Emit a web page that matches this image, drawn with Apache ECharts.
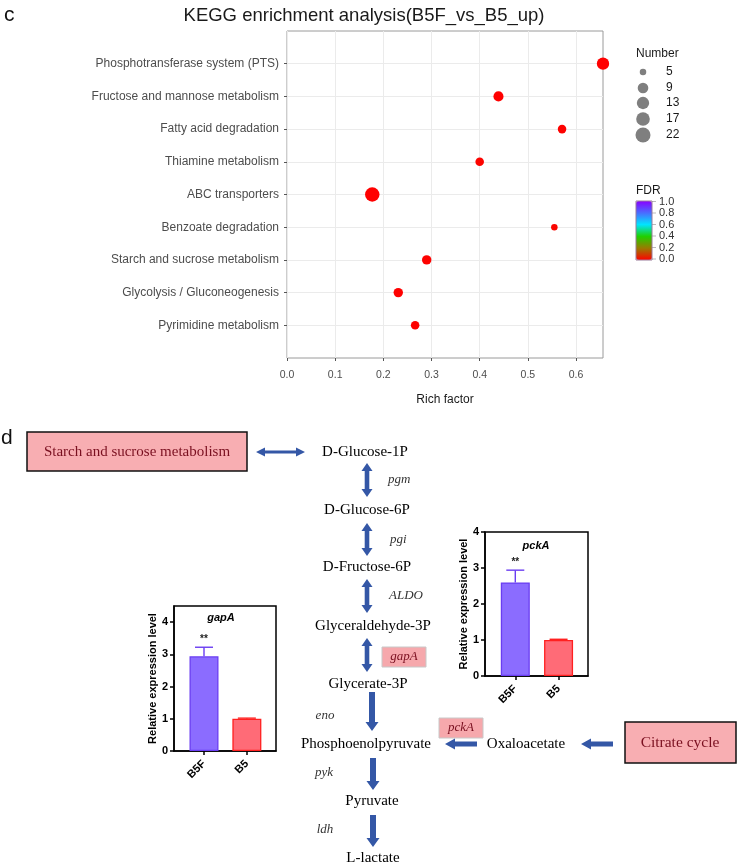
<!DOCTYPE html>
<html><head><meta charset="utf-8">
<script src="https://cdn.jsdelivr.net/npm/echarts@6/dist/echarts.min.js"></script>
<style>html,body{margin:0;padding:0;background:#fff}#c{width:737px;height:865px}</style>
</head><body><div id="c"></div>
<script>
// ---------- panel c data ----------
const categories = ['Phosphotransferase system (PTS)','Fructose and mannose metabolism','Fatty acid degradation','Thiamine metabolism','ABC transporters','Benzoate degradation','Starch and sucrose metabolism','Glycolysis / Gluconeogenesis','Pyrimidine metabolism'];
const richFactor = [0.656, 0.439, 0.571, 0.400, 0.177, 0.555, 0.290, 0.231, 0.266];
const geneNumber = [13, 8, 6, 6, 20, 5, 7, 7, 6];
const fdr = [0.0002, 0.0008, 0.004, 0.006, 0.0001, 0.009, 0.003, 0.002, 0.004];
const sizeBreaks = [5, 9, 13, 17, 22];
const fdrTickLabels = ['1.0','0.8','0.6','0.4','0.2','0.0'];
const xTickValues = [0, 0.1, 0.2, 0.3, 0.4, 0.5, 0.6];

// ---------- panel d data ----------
const qpcrGroups = ['B5F', 'B5'];
const gapAMean = [2.94, 1.00];
const gapASd = [0.28, 0.02];
const pckAMean = [2.60, 1.00];
const pckASd = [0.34, 0.02];
const sigMarks = ['**', ''];
const barTicks = [0, 1, 2, 3, 4];
const metabolites = ['D-Glucose-1P','D-Glucose-6P','D-Fructose-6P','Glyceraldehyde-3P','Glycerate-3P','Phosphoenolpyruvate','Pyruvate','L-lactate','Oxaloacetate'];
const enzymes = ['pgm','pgi','ALDO','eno','pyk','ldh'];
const highlightedGenes = ['gapA','pckA'];
const pathwayBoxes = ['Starch and sucrose metabolism','Citrate cycle'];

// ---------- styles ----------
const SANS = '"Liberation Sans", Arial, sans-serif';
const SERIF = '"Liberation Serif", "Times New Roman", serif';
const ARROW = '#3457a6';
const PINK = '#f8aeb2';
const DARKRED = '#7a1020';
const barFill = ['#8b6cff', '#ff6b77'];
const barBorder = ['#6a3df2', '#ff2020'];

function sizeFn(n) { return 6.5 + 8.5 * Math.sqrt((n - 5) / 17); }

const chart = echarts.init(document.getElementById('c'), null, {renderer: 'canvas'});

const yCats = [''].concat(categories).concat(['']);
const scatterData = categories.map((c, i) => [richFactor[i], c, geneNumber[i], fdr[i]]);

// ---------- graphic (legends, labels, pathway diagram) ----------
const G = [];
function txt(x, y, text, font, fill, align) {
  G.push({type: 'text', x: x, y: y, silent: true,
    style: {text: text, font: font, fill: fill || '#000',
      textAlign: align || 'center', textVerticalAlign: 'middle',
      align: align || 'center', verticalAlign: 'middle'}});
}
function poly(points) { G.push({type: 'polygon', silent: true, shape: {points: points}, style: {fill: ARROW}}); }
function rect(x, y, w, h, fill, stroke, lw) {
  G.push({type: 'rect', silent: true, shape: {x: x, y: y, width: w, height: h}, style: {fill: fill, stroke: stroke, lineWidth: lw}});
}
function line(x1, y1, x2, y2, col, lw) {
  G.push({type: 'line', silent: true, shape: {x1: x1, y1: y1, x2: x2, y2: y2}, style: {stroke: col, lineWidth: lw}});
}
function vDouble(x, y1, y2) {
  const hw = 5.5, sw = 2.3, hl = 8;
  poly([[x, y1], [x + hw, y1 + hl], [x + sw, y1 + hl], [x + sw, y2 - hl], [x + hw, y2 - hl], [x, y2],
        [x - hw, y2 - hl], [x - sw, y2 - hl], [x - sw, y1 + hl], [x - hw, y1 + hl]]);
}
function vDown(x, y1, y2) {
  const hw = 6.5, sw = 3, hl = 9;
  poly([[x - sw, y1], [x + sw, y1], [x + sw, y2 - hl], [x + hw, y2 - hl], [x, y2], [x - hw, y2 - hl], [x - sw, y2 - hl]]);
}
function hLeft(x1, x2, y) {
  const hh = 5.5, sh = 2.5, hl = 10;
  poly([[x1, y], [x1 + hl, y - hh], [x1 + hl, y - sh], [x2, y - sh], [x2, y + sh], [x1 + hl, y + sh], [x1 + hl, y + hh]]);
}
function hDouble(x1, x2, y) {
  const hh = 4.5, sh = 1.6, hl = 9;
  poly([[x1, y], [x1 + hl, y - hh], [x1 + hl, y - sh], [x2 - hl, y - sh], [x2 - hl, y - hh], [x2, y],
        [x2 - hl, y + hh], [x2 - hl, y + sh], [x1 + hl, y + sh], [x1 + hl, y + hh]]);
}

// panel letters and title
txt(4, 15, 'c', '21px ' + SANS, '#111', 'left');
txt(1, 438, 'd', '21px ' + SANS, '#111', 'left');
txt(364, 16, 'KEGG enrichment analysis(B5F_vs_B5_up)', '18.5px ' + SANS, '#1a1a1a');

// Number legend
txt(636, 54, 'Number', '12px ' + SANS, '#1a1a1a', 'left');
const legY = [72, 88, 103, 119, 135];
sizeBreaks.forEach((n, i) => {
  G.push({type: 'circle', silent: true, shape: {cx: 643, cy: legY[i], r: sizeFn(n) / 2}, style: {fill: '#7f7f7f'}});
  txt(666, legY[i], String(n), '12px ' + SANS, '#1a1a1a', 'left');
});

// FDR legend labels
txt(636, 191, 'FDR', '12px ' + SANS, '#1a1a1a', 'left');
fdrTickLabels.forEach((t, i) => {
  const y = 201.5 + i * 11.5;
  line(652, y, 656, y, '#bbbbbb', 1);
  txt(659, y, t, '11px ' + SANS, '#333', 'left');
});
G.push({type: 'rect', silent: true, z: 100, shape: {x: 636, y: 201, width: 16, height: 59}, style: {fill: 'none', stroke: '#9a7a9a', lineWidth: 1}});

// pathway boxes
rect(27, 432, 220, 39, PINK, '#111', 1.5);
txt(137, 452, pathwayBoxes[0], '15px ' + SERIF, DARKRED);
rect(625, 722, 111, 41, PINK, '#111', 1.5);
txt(680, 743, pathwayBoxes[1], '15.5px ' + SERIF, DARKRED);

// highlighted genes
rect(382, 647, 44, 20, '#f6a8ac', '#c8c8c8', 1);
txt(404, 657, highlightedGenes[0], 'italic 13px ' + SERIF, DARKRED);
rect(439, 718, 44, 20, '#f6a8ac', '#c8c8c8', 1);
txt(461, 728, highlightedGenes[1], 'italic 13px ' + SERIF, DARKRED);

// metabolites
const metPos = [[365, 452], [367, 510], [367, 567], [373, 626], [368, 684], [366, 744], [372, 801], [373, 858], [526, 744]];
metabolites.forEach((m, i) => txt(metPos[i][0], metPos[i][1], m, '15px ' + SERIF, '#000'));

// enzymes
const enzPos = [[388, 480, 'left'], [390, 540, 'left'], [389, 596, 'left'], [325, 716, 'center'], [324, 773, 'center'], [325, 830, 'center']];
enzymes.forEach((e, i) => txt(enzPos[i][0], enzPos[i][1], e, 'italic 13px ' + SERIF, '#333', enzPos[i][2]));

// arrows
hDouble(256, 305, 452);
vDouble(367, 463, 497);
vDouble(367, 523, 556);
vDouble(367, 579, 613);
vDouble(367, 638, 672);
vDown(372, 692, 731);
vDown(373, 758, 790);
vDown(373, 815, 847);
hLeft(445, 477, 744);
hLeft(581, 613, 744);

// qPCR chart titles
txt(221, 618, highlightedGenes[0], 'italic bold 11px ' + SANS, '#000');
txt(536, 546, highlightedGenes[1], 'italic bold 11px ' + SANS, '#000');

// ---------- qPCR helpers ----------
const qpcrXMin = -0.7, qpcrXMax = 1.68;
function qpcrX(gi) {
  return {type: 'value', gridIndex: gi, min: qpcrXMin, max: qpcrXMax,
    axisLine: {show: true, onZero: false, lineStyle: {color: '#000', width: 1.5}},
    axisTick: {show: true, customValues: [0, 1], length: 4, lineStyle: {color: '#000', width: 1.5}},
    axisLabel: {customValues: [0, 1], formatter: v => qpcrGroups[Math.round(v)], rotate: 45, margin: 11,
      fontWeight: 'bold', fontSize: 11, color: '#000', fontFamily: SANS},
    splitLine: {show: false}};
}
function qpcrY(gi, max, gap) {
  return {type: 'value', gridIndex: gi, min: 0, max: max,
    name: 'Relative expression level', nameLocation: 'middle', nameGap: gap,
    nameTextStyle: {fontWeight: 'bold', fontSize: 11, color: '#000', fontFamily: SANS},
    axisLine: {show: true, onZero: false, lineStyle: {color: '#000', width: 1.5}},
    axisTick: {show: true, customValues: barTicks, length: 4, lineStyle: {color: '#000', width: 1.5}},
    axisLabel: {customValues: barTicks, margin: 6, fontWeight: 'bold', fontSize: 11, color: '#000', fontFamily: SANS},
    splitLine: {show: false}};
}
function barSeries(ai, means) {
  return {type: 'bar', xAxisIndex: ai, yAxisIndex: ai, barWidth: 29, z: 2,
    data: means.map((v, i) => ({value: [i, v], itemStyle: {color: barFill[i], borderColor: barBorder[i], borderWidth: 1.3}}))};
}
function errSeries(ai, means, sds) {
  return {type: 'custom', xAxisIndex: ai, yAxisIndex: ai, z: 3,
    data: means.map((m, i) => [i, m, m + sds[i]]),
    renderItem: function (params, api) {
      const i = params.dataIndex;
      const p0 = api.coord([api.value(0), api.value(1)]);
      const p1 = api.coord([api.value(0), api.value(2)]);
      const col = barBorder[i];
      const ch = [
        {type: 'line', shape: {x1: p0[0], y1: p0[1], x2: p1[0], y2: p1[1]}, style: {stroke: col, lineWidth: 1.4}},
        {type: 'line', shape: {x1: p1[0] - 9, y1: p1[1], x2: p1[0] + 9, y2: p1[1]}, style: {stroke: col, lineWidth: 1.4}}
      ];
      if (sigMarks[i]) ch.push({type: 'text', x: p1[0], y: p1[1] - 8,
        style: {text: sigMarks[i], font: 'bold 10px ' + SANS, fill: '#222', align: 'center', verticalAlign: 'middle', textAlign: 'center', textVerticalAlign: 'middle'}});
      return {type: 'group', children: ch};
    }};
}

const option = {
  animation: false,
  backgroundColor: '#fff',
  grid: [
    {left: 287, top: 31, width: 316, height: 327, show: true, borderColor: '#9a9a9a', borderWidth: 1, backgroundColor: 'transparent'},
    {left: 174, top: 606, width: 102, height: 145, show: true, borderColor: '#000', borderWidth: 1.5},
    {left: 485, top: 532, width: 103, height: 144, show: true, borderColor: '#000', borderWidth: 1.5}
  ],
  xAxis: [
    {type: 'value', gridIndex: 0, min: 0, max: 0.656, interval: 0.1,
      name: 'Rich factor', nameLocation: 'middle', nameGap: 36,
      nameTextStyle: {fontSize: 12, color: '#1a1a1a', fontFamily: SANS},
      axisLine: {show: false},
      axisTick: {show: true, customValues: xTickValues, length: 3, lineStyle: {color: '#555'}},
      axisLabel: {customValues: xTickValues, formatter: v => v.toFixed(1), fontSize: 10.5, color: '#4d4d4d', margin: 12, fontFamily: SANS},
      splitLine: {show: true, lineStyle: {color: '#ebebeb', width: 1}}},
    qpcrX(1), qpcrX(2)
  ],
  yAxis: [
    {type: 'category', gridIndex: 0, data: yCats, inverse: true, boundaryGap: false,
      axisLine: {show: false},
      axisTick: {show: true, length: 3, interval: (idx, val) => val !== '', lineStyle: {color: '#555'}},
      axisLabel: {interval: 0, fontSize: 12, color: '#4d4d4d', margin: 8, fontFamily: SANS},
      splitLine: {show: true, interval: (idx, val) => val !== '', lineStyle: {color: '#ebebeb', width: 1}}},
    qpcrY(1, 4.5, 15), qpcrY(2, 4, 13)
  ],
  visualMap: [{
    type: 'continuous', show: true, seriesIndex: 0, dimension: 3, min: 0, max: 1,
    calculable: false, left: 636, top: 201, itemWidth: 16, itemHeight: 59, padding: 0,
    text: null, showLabel: false, hoverLink: false,
    inRange: {color: ['#ff0000', '#9a7a00', '#20d000', '#00e5ff', '#4a6cff', '#8a00ff']}
  }],
  series: [
    {type: 'scatter', xAxisIndex: 0, yAxisIndex: 0, data: scatterData,
      symbolSize: v => sizeFn(v[2]), itemStyle: {opacity: 1}, z: 3},
    barSeries(1, gapAMean), errSeries(1, gapAMean, gapASd),
    barSeries(2, pckAMean), errSeries(2, pckAMean, pckASd)
  ],
  graphic: G
};
chart.setOption(option);
</script>
</body></html>
